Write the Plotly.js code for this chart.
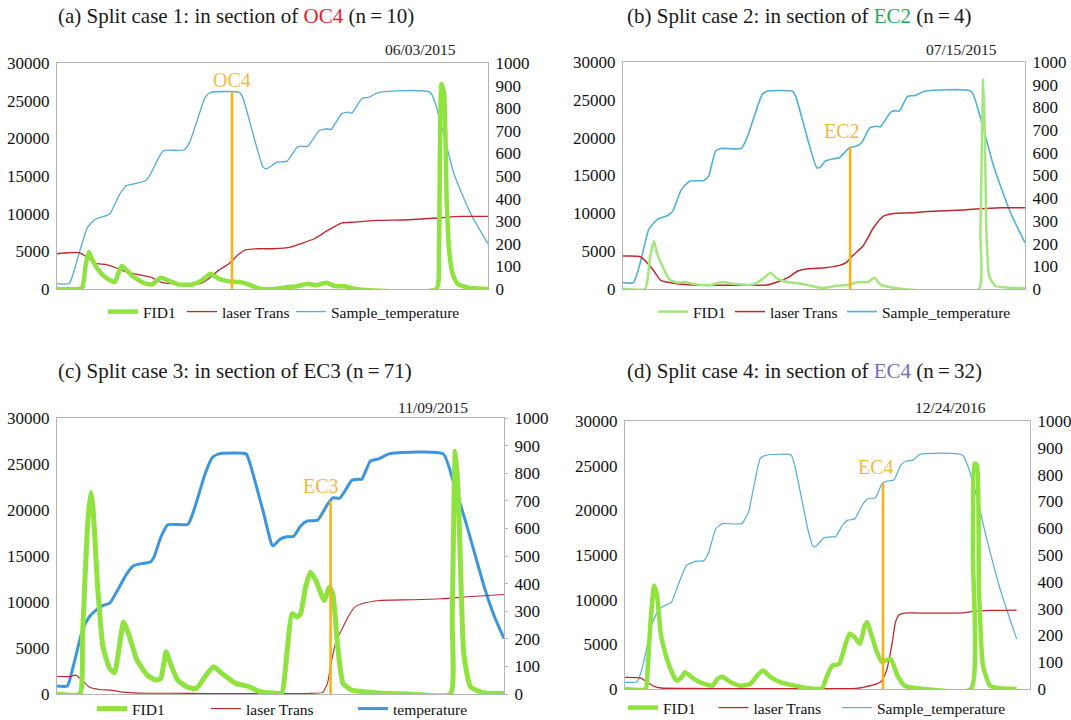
<!DOCTYPE html>
<html><head><meta charset="utf-8">
<script src="https://cdn.plot.ly/plotly-3.0.1.min.js"></script>
<style>html,body{margin:0;padding:0;background:#fff}#chart{width:1071px;height:720px}</style>
</head><body><div id="chart"></div>
<script>
// ---------- Panel (a) 06/03/2015, OC4 ----------
const aTx = [0,2.8,5.1,7.1,9.1,11.5,12.3,14.6,16.2,18.6,20.6,21.3,24.1,24.9,29.6,30.8,34.4,35.6,42.3,43.1,47.8,48.6,51.0,53.4,55.7,56.5,58.1,60.9,62.8,63.6,66.0,67.6,68.4,70.8,72.3,74.7,86.6,88.9,92.1,96.0,100];
const aT  = [24,24,156,274,311,325,333,421,458,468,480,495,598,613,616,650,848,870,870,848,539,532,561,566,627,632,631,701,709,705,775,783,778,844,848,870,870,745,510,333,200];
const aLx = [0,2.8,5.1,7.5,8.7,11.5,13.8,16.2,18.6,21.7,24.1,26.5,31.2,33.2,35.2,37.5,39.9,42.3,43.9,47.0,50.2,54.2,56.5,59.7,62.8,66.0,69.2,73.9,81.8,88.9,93.7,100];
const aL  = [4680,4815,4815,4020,3446,3225,2783,2253,1944,1590,928,707,663,707,1370,2474,3358,4683,5214,5346,5346,5567,6009,6671,7776,8748,8881,9102,9190,9455,9632,9632];
const aFx = [0,5.1,5.9,6.7,7.4,7.9,9.1,10.7,12.3,13.4,14.2,15.0,16.2,17.8,20.2,22.1,24.1,25.7,28.1,31.2,33.6,35.6,37.5,39.9,42.3,43.9,47.0,50.2,52.6,55.7,58.1,60.1,62.5,64.4,66.8,69.2,88.0,88.6,89.2,89.8,90.4,91.0,91.8,92.9,95.3,100];
const aF  = [0,0,265,3358,4904,4241,2916,1811,1149,928,2032,3049,2474,1590,795,619,1502,1149,619,574,1149,2032,1370,1016,928,707,44,0,177,354,707,486,839,400,354,0,0,5000,27200,26000,12000,5000,2000,700,177,0];
const aMark = [40.6, 26100], aLabelPos = [40.7, 27790];

// ---------- Panel (b) 07/15/2015, EC2 ----------
const bTx = [0,2.6,4.3,6.4,8.5,11.1,12.4,14.5,16.6,20.1,21.3,23.0,24.3,29.4,30.7,34.6,35.8,42.2,43.1,48.2,49.1,50.3,52.0,53.8,56.3,58.0,59.3,61.4,63.1,64.0,66.6,67.8,68.7,70.8,72.5,75.1,86.6,88.7,92.2,96.4,100];
const bT  = [28,28,116,262,306,324,343,438,475,478,497,607,619,619,659,856,871,871,842,534,537,563,573,578,622,629,643,710,717,714,779,786,783,849,852,871,871,768,541,336,204];
const bLx = [0,4.3,6.0,7.7,9.4,11.9,16.2,21.3,25.6,30.7,35.8,38.4,41.0,43.5,46.1,50.3,53.8,55.5,57.2,59.7,62.3,64.8,67.4,71.7,75.9,84.5,88.7,93.9,100];
const bL  = [4355,4267,3475,2375,1144,836,572,484,484,484,528,924,1496,2375,2683,2815,3123,3475,4443,5675,8094,9634,9986,10074,10250,10426,10602,10734,10734];
const bFx = [0,5.5,6.0,6.8,7.7,8.4,9.8,11.5,13.7,15.4,17.9,21.3,24.7,27.3,32.4,34.6,36.7,38.4,41.0,44.4,46.9,49.5,52.9,56.3,58.4,61.0,62.5,64.0,66.6,69.5,88.5,88.9,89.6,90.0,90.4,91.1,92.6,97.3,100];
const bF  = [0,0,836,4355,6335,4795,3035,1276,836,924,616,484,924,704,616,1276,2155,1364,924,704,396,132,396,572,924,924,1496,616,220,0,0,7434,27800,20631,7434,1716,396,132,132];
const bMark = [56.5, 18740], bLabelPos = [54.4, 20850];

// ---------- Panel (c) 11/09/2015, EC3 ----------
const cTx = [0,2.3,3.8,5.7,7.2,8.8,10.3,11.8,13.3,15.6,17.1,19.4,20.9,21.7,23.2,24.8,29.3,30.8,33.1,34.7,36.2,42.3,43.0,46.1,48.0,48.4,49.9,51.4,52.9,54.5,56.0,58.3,60.5,61.7,63.2,64.4,65.9,67.4,68.2,70.1,72.0,74.3,86.4,88.7,91.8,95.6,97.9,100];
const cT  = [29,29,111,231,279,305,321,329,369,435,465,474,478,496,567,613,615,675,796,856,870,870,844,663,543,537,561,570,571,609,627,630,687,711,709,735,774,778,778,844,852,870,870,766,603,387,279,201];
const cLx = [0,3.0,4.2,5.7,7.2,9.5,11.8,14.9,17.9,25.5,33.9,40.7,48.4,55.9,59.4,59.8,60.5,61.3,62.5,63.6,65.1,66.6,68.2,72.2,79.8,85.9,92.8,100];
const cL  = [1900,1900,2050,1450,750,480,420,200,100,80,50,60,60,60,150,430,1150,3300,5840,6900,8366,9450,9808,10169,10241,10349,10601,10818];
const cFx = [0,5.1,5.7,6.9,7.6,8.1,9.1,10.3,11.8,12.9,13.7,14.9,16.0,17.9,20.2,22.1,23.2,24.4,25.1,27.0,29.3,31.2,33.1,35.0,36.9,40.0,43.0,45.3,48.4,50.3,51.0,52.6,53.7,54.5,55.6,56.7,57.9,59.8,60.9,61.7,62.8,64.0,65.9,71.2,78.8,88.0,88.4,89.1,89.7,90.3,91.0,92.5,95.6,100];
const cF  = [0,0,6200,18800,21900,19900,11600,5100,2780,2300,4400,7800,6560,3680,2055,1515,1700,4580,3680,1515,720,613,1875,2957,2235,1154,790,252,108,108,2235,8727,8366,8727,11611,13234,12333,10169,11611,10890,5120,1154,433,144,0,0,8005,26396,22429,13414,4400,793,108,72];
const cMark = [61.2, 20980], cLabelPos = [59.0, 22600];

// ---------- Panel (d) 12/24/2016, EC4 ----------
const dTx = [0,3.0,4.2,5.5,6.8,8.5,10.2,11.4,13.1,15.2,17.3,19.5,20.7,22.4,24.1,28.8,30.5,33.4,35.1,41.0,41.9,45.3,46.5,47.4,49.1,51.2,52.0,53.7,55.0,56.7,58.8,60.1,61.8,63.5,64.7,66.4,68.1,69.4,71.1,72.8,83.3,85.9,89.3,92.6,96.7];
const dT  = [25,27,75,162,249,299,314,322,387,461,476,479,511,598,617,617,661,860,873,873,835,586,530,536,564,568,568,611,630,634,692,711,713,767,776,780,835,850,854,875,873,773,561,374,187];
const dLx = [0,3.8,5.5,7.2,8.9,15.7,28.3,53.7,57.1,58.8,61.3,63.0,63.9,64.7,66.0,66.8,67.7,69.0,74.9,83.3,85.9,90.1,96.7];
const dL  = [1309,1234,748,300,112,75,37,37,75,187,449,748,1309,2245,5237,7482,8305,8492,8492,8530,8679,8791,8829];
const dFx = [0,5.1,5.5,6.3,7.2,7.9,8.9,10.6,12.7,14.0,14.8,16.5,19.0,21.6,22.8,24.1,25.8,28.3,30.9,32.6,34.1,36.0,38.5,41.9,45.3,48.6,49.9,51.2,52.9,54.1,55.4,56.7,58.0,59.2,59.8,60.9,62.2,63.5,64.3,65.6,67.3,69.0,72.3,85.4,85.9,86.3,86.9,87.4,88.4,90.1,92.6,96.7];
const dF  = [0,0,1496,7482,11597,10475,5986,2993,935,1309,1871,1309,673,374,1122,1384,823,374,561,1496,2058,1309,748,374,75,75,1496,2619,2806,4489,6173,5799,5050,7108,7482,5986,4115,2993,3180,3367,1496,374,75,0,14964,25252,25065,11223,2619,374,75,0];
const dMark = [63.7, 23000], dLabelPos = [61.9, 24880];

const titles = [
  '(a) Split case 1: in section of <span style="color:#E8202A">OC4</span> (n\u2009=\u200910)',
  '(b) Split case 2: in section of <span style="color:#1FAE4F">EC2</span> (n\u2009=\u20094)',
  '(c) Split case 3: in section of EC3 (n\u2009=\u200971)',
  '(d) Split case 4: in section of <span style="color:#7A6CC4">EC4</span> (n\u2009=\u200932)'
];
const dates = ['06/03/2015','07/15/2015','11/09/2015','12/24/2016'];
const markLabels = ['OC4','EC2','EC3','EC4'];
const seriesNames = ['FID1','laser Trans'];
const tempNames = ['Sample_temperature','Sample_temperature','temperature','Sample_temperature'];
const leftTicks = [0,5000,10000,15000,20000,25000,30000];
const rightTicks = [0,100,200,300,400,500,600,700,800,900,1000];

// ---------- styling / geometry ----------
const FONT = 'Liberation Serif, Times New Roman, serif';
const W = 1071, H = 720;
const boxes = [ // [left,right,top,bottom] px
  [57,488,63,289],[623,1025,62,289],[57,504,418,694],[625,1030,421,689]];
const titlePos = [[56,16],[625,16],[56,371],[625,371]];
const datePos = [[420,50],[961,50],[433,407],[950,407]];
const legendPos = [[103,312],[653,312],[92,709],[623,708]];
const legendW = [[34,64],[32,67],[69,102],[45.5,78.5]];
const green = ['#8FE33F','#A3E77C','#8FE33F','#8FE33F'];
const greenW = [4.5,2.5,5,4.5];
const blue = ['#53ACDA','#4FB0D8','#3B96DF','#53ACDA'];
const blueW = [1.3,1.6,3,1.2];
const redW = [1.3,1.5,1.1,1.3];
const red = '#C0282D', orange = '#F7B216', grey = '#b5b5b5';

const P = [
  {Tx:aTx,T:aT,Lx:aLx,L:aL,Fx:aFx,F:aF,mark:aMark,lab:aLabelPos},
  {Tx:bTx,T:bT,Lx:bLx,L:bL,Fx:bFx,F:bF,mark:bMark,lab:bLabelPos},
  {Tx:cTx,T:cT,Lx:cLx,L:cL,Fx:cFx,F:cF,mark:cMark,lab:cLabelPos},
  {Tx:dTx,T:dT,Lx:dLx,L:dL,Fx:dFx,F:dF,mark:dMark,lab:dLabelPos}
];

const data = [];
const layout = {
  width: W, height: H, paper_bgcolor:'#fff', plot_bgcolor:'#fff',
  margin:{l:0,r:0,t:0,b:0,autoexpand:false},
  font:{family:FONT,color:'#111',size:16},
  showlegend:true, annotations:[], hovermode:false
};

P.forEach((p,i) => {
  const k = i+1;
  const xa = k===1 ? 'x' : 'x'+k;
  const yT = i===0 ? 'y' : 'y'+(2*i+1);
  const yF = 'y'+(2*i+2);
  const lg = k===1 ? 'legend' : 'legend'+k;
  const b = boxes[i];
  const xdom = [b[0]/W, b[1]/W];
  const ydom = [1-b[3]/H, 1-b[2]/H];
  const xKey = k===1 ? 'xaxis' : 'xaxis'+k;
  const yTKey = i===0 ? 'yaxis' : 'yaxis'+(2*i+1);
  const yFKey = 'yaxis'+(2*i+2);

  layout[xKey] = {domain:xdom, range:[0,100], anchor:yT, showticklabels:false, ticks:'',
    showgrid:false, zeroline:false, showline:true, mirror:true, linecolor:grey, linewidth:1, fixedrange:true};
  layout[yTKey] = {domain:ydom, range:[0,1000], anchor:xa, side:'right', tickvals:rightTicks,
    tickformat:'d', showgrid:false, zeroline:false, showline:true, linecolor:grey, linewidth:1,
    ticks: i===2 ? 'outside':'', ticklen:3, tickcolor:grey,
    tickfont:{family:FONT,size:17,color:'#111'}, ticklabelstandoff:3, fixedrange:true};
  layout[yFKey] = {range:[0,30000], overlaying:yT, anchor:xa, side:'left', tickvals:leftTicks, tickformat:'d',
    showgrid:false, zeroline:false, showline:true, linecolor:grey, linewidth:1, ticks:'',
    tickfont:{family:FONT,size:17,color:'#111'}, ticklabelstandoff:3, fixedrange:true};

  layout[lg] = {orientation:'h', x:legendPos[i][0]/W, y:1-legendPos[i][1]/H, xanchor:'left', yanchor:'middle',
    bgcolor:'rgba(0,0,0,0)', borderwidth:0, font:{family:FONT,size:15.5,color:'#111'}, traceorder:'normal',
    itemclick:false, itemdoubleclick:false};

  data.push({type:'scatter', mode:'lines', x:p.Tx, y:p.T, xaxis:xa, yaxis:yT, name:tempNames[i],
    legend:lg, legendrank:3, line:{color:blue[i], width:blueW[i], shape:'spline', smoothing:0.5}});
  data.push({type:'scatter', mode:'lines', x:p.Lx, y:p.L, xaxis:xa, yaxis:yF, name:seriesNames[1],
    legend:lg, legendrank:2, legendwidth:legendW[i][1], line:{color:red, width:redW[i], shape:'spline', smoothing:0.6}});
  data.push({type:'scatter', mode:'lines', x:p.Fx, y:p.F, xaxis:xa, yaxis:yF, name:seriesNames[0],
    legend:lg, legendrank:1, legendwidth:legendW[i][0], line:{color:green[i], width:greenW[i], shape:'spline', smoothing:0.5}});
  data.push({type:'scatter', mode:'lines', x:[p.mark[0],p.mark[0]], y:[0,p.mark[1]], xaxis:xa, yaxis:yF,
    showlegend:false, line:{color:orange, width:2.6}});

  layout.annotations.push({xref:xa, yref:yF, x:p.lab[0], y:p.lab[1], text:markLabels[i], showarrow:false,
    xanchor:'center', yanchor:'middle', font:{family:FONT,size:20,color:'#F2B940'}});
  layout.annotations.push({xref:'paper', yref:'paper', x:titlePos[i][0]/W, y:1-titlePos[i][1]/H, text:titles[i],
    showarrow:false, xanchor:'left', yanchor:'middle', font:{family:FONT,size:21,color:'#1a1a1a'}});
  layout.annotations.push({xref:'paper', yref:'paper', x:datePos[i][0]/W, y:1-datePos[i][1]/H, text:dates[i],
    showarrow:false, xanchor:'center', yanchor:'middle', font:{family:FONT,size:15.5,color:'#1a1a1a'}});
});

Plotly.newPlot('chart', data, layout, {staticPlot:true, displayModeBar:false});
</script></body></html>
